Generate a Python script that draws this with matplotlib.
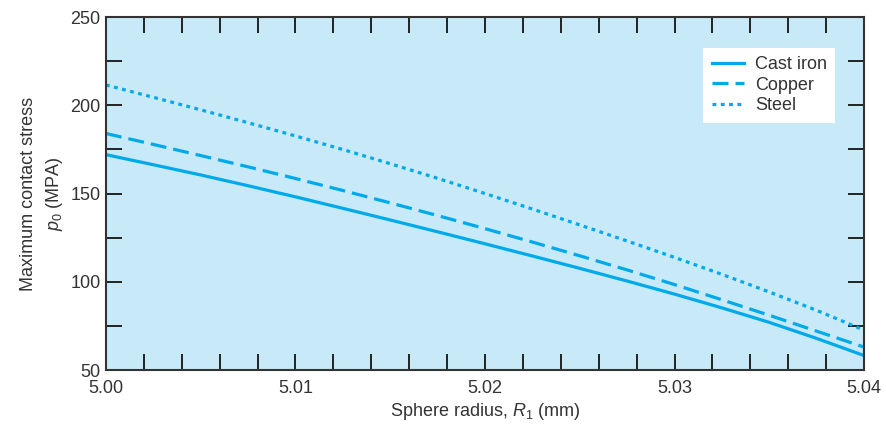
import matplotlib
matplotlib.use("Agg")
import matplotlib.pyplot as plt
from matplotlib.ticker import MultipleLocator, FormatStrFormatter

fam = 'Liberation Sans'
plt.rcParams['font.family'] = [fam, 'DejaVu Sans']
plt.rcParams['mathtext.fontset'] = 'custom'
plt.rcParams['mathtext.it'] = fam + ':italic'
plt.rcParams['mathtext.rm'] = fam

radius = [5.0000, 5.0025, 5.0050, 5.0075, 5.0100, 5.0125, 5.0150, 5.0175, 5.0200,
          5.0225, 5.0250, 5.0275, 5.0300, 5.0325, 5.0350, 5.0375, 5.0400]
cast_iron = [172.0, 166.3, 160.5, 154.4, 148.1, 141.6, 135.0, 128.3, 121.5,
             114.6, 107.6, 100.4, 93.0, 85.2, 77.0, 67.9, 58.2]
copper = [184.0, 177.8, 171.5, 165.1, 158.5, 151.7, 144.7, 137.5, 130.1,
          122.5, 114.7, 106.7, 98.4, 89.8, 81.0, 72.0, 63.0]
steel = [211.5, 204.5, 197.4, 190.1, 182.6, 174.9, 166.9, 158.6, 150.0,
         141.2, 132.2, 123.1, 113.8, 104.2, 94.2, 83.8, 72.6]

line_color = '#00AAEA'
text_color = '#333333'

fig = plt.figure(figsize=(8.86, 4.25), dpi=100)
ax = fig.add_axes([0.1196, 0.1294, 0.8556, 0.8306])
ax.set_facecolor('#C7E9F8')

lw = 2.3
ax.plot(radius, cast_iron, color=line_color, lw=lw, label='Cast iron')
ax.plot(radius, copper, color=line_color, lw=lw, dashes=(5, 2.2), label='Copper')
ax.plot(radius, steel, color=line_color, lw=lw, dashes=(1.2, 1.4), label='Steel')

ax.set_xlim(5.00, 5.04)
ax.set_ylim(50, 250)
ax.xaxis.set_major_locator(MultipleLocator(0.01))
ax.xaxis.set_minor_locator(MultipleLocator(0.002))
ax.xaxis.set_major_formatter(FormatStrFormatter('%.2f'))
ax.yaxis.set_major_locator(MultipleLocator(50))
ax.yaxis.set_minor_locator(MultipleLocator(25))

ax.tick_params(which='both', direction='in', length=11.5, width=1.4,
               top=True, right=True, color='#222222')
ax.tick_params(which='major', labelsize=13, labelcolor=text_color)
ax.tick_params(axis='x', which='major', pad=7)
ax.tick_params(axis='y', which='major', pad=4)
for s in ax.spines.values():
    s.set_linewidth(1.5)
    s.set_color('#333333')

ax.set_xlabel('Sphere radius, $R_1$ (mm)', fontsize=13, color=text_color, labelpad=3)
ax.set_ylabel('Maximum contact stress\n$p_0$ (MPA)', fontsize=13, color=text_color,
              labelpad=4, linespacing=1.45)

leg = ax.legend(loc='upper right', bbox_to_anchor=(0.9617, 0.912), fontsize=13,
                frameon=True, fancybox=False, edgecolor='white', framealpha=1,
                handlelength=1.8, labelspacing=0.2, borderpad=0.45,
                handletextpad=0.6, borderaxespad=0)
leg.get_frame().set_linewidth(0)
for t in leg.get_texts():
    t.set_color(text_color)

fig.savefig('out.png', dpi=100)
